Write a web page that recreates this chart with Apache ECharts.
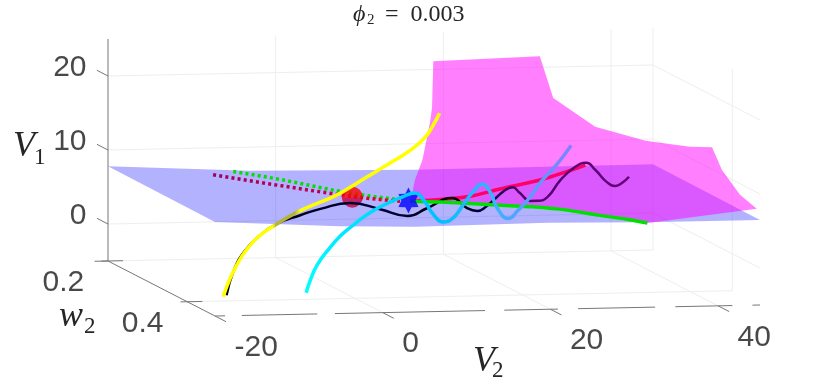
<!DOCTYPE html>
<html>
<head>
<meta charset="utf-8">
<style>
  html, body { margin: 0; padding: 0; background: #fff; }
  #main { width: 830px; height: 391px; }
</style>
<script src="https://cdn.jsdelivr.net/npm/echarts@6/dist/echarts.min.js"></script>
</head>
<body>
<div id="main"></div>
<script>
// axis ranges and ticks
const v2Range = [-20, 45];
const w2Range = [0.2, 0.47];
const v1Range = [-5, 25];
const v2Ticks = [-20, 0, 20, 40];
const w2Ticks = [0.2, 0.4];
const v1Ticks = [0, 10, 20];
// V2 axis line is broken up in the original
const v2AxisPieces = [[-20, -18.8], [-16.8, -7.8], [-5.7, 12.2], [14.5, 20.9], [23.3, 32.5], [34.9, 41.7], [44.1, 45]];

// blue surface, back edge then front edge
const blueBackV2 = [-20, -3.1, 16.6, 45];
const blueBackV1 = [7.8, 6.8, 6.5, 6.6];
const blueFrontV2 = [-20, -5.1, 3.9, 19.7, 31.5, 45];
const blueFrontV1 = [7.7, 6.8, 6.5, 6.7, 6.5, 6.5];

// pink surface outline
const pinkV2 = [18.8, 31.5, 33.1, 38.1, 44.1, 45, 45, 45, 45, 45, 33.7, 23.9, 14.0, 16.0, 16.3, 16.6, 17.5, 18.4, 18.65];
const pinkW2 = [0.2, 0.2, 0.2, 0.2, 0.2, 0.293, 0.349, 0.374, 0.42, 0.462, 0.425, 0.425, 0.425, 0.2, 0.2, 0.2, 0.2, 0.2, 0.2];
const pinkV1 = [21.1, 21.5, 15.8, 11.8, 9.8, 11.5, 13, 10.6, 8.5, 7.8, 5.1, 7.1, 8.1, 2.4, 3.4, 5.1, 7.8, 12.8, 14.9];

// trajectories, all read at about the same w2
const curveW2 = 0.425;
const yellowV2 = [-16.9, -16.2, -15.35, -14.15, -12.6, -10.7, -8.3, -5.9, -3.5, -1.15, 1.25, 3.6, 5.65, 7.2, 8.15, 8.9];
const yellowV1 = [-3.7, -1.6, 0.4, 2.55, 4.4, 5.85, 7.4, 8.55, 9.65, 11.15, 12.75, 14.3, 15.75, 17.3, 18.9, 20.5];
const blackV2 = [-16.5, -15.6, -14.4, -12.7, -10.5, -7.7, -5.3, -1.7, 1.8, 5.1, 7.4, 10.4, 12.2, 13.4, 14.4, 16.7, 17.6, 18.5, 19.7, 20.6, 21.8, 23.3, 25.1, 26.4, 27.5, 28.9, 29.9, 30.7, 31.5];
const blackV1 = [-3.5, -0.1, 2.3, 4.3, 6.0, 7.1, 7.9, 8.6, 7.7, 6.7, 7.7, 9.0, 7.6, 7.2, 7.7, 9.9, 10.3, 9.5, 8.4, 8.4, 8.9, 11.1, 12.9, 13.4, 12.4, 10.7, 10.2, 10.6, 11.4];
const cyanV2 = [-7.0, -6.5, -5.7, -4.4, -2.9, -1.4, 0.0, 1.8, 4.5, 6.0, 7.0, 8.2, 9.3, 10.5, 11.7, 12.9, 14.0, 15.0, 15.8, 17.1, 18.3, 19.4, 21.2, 23.0, 24.6];
const cyanV1 = [-3.4, -1.7, 0.3, 2.3, 4.2, 5.6, 6.8, 8.0, 9.3, 9.8, 8.8, 6.8, 5.8, 6.3, 8.0, 9.8, 10.8, 9.6, 7.5, 6.1, 7.2, 8.5, 11.2, 13.4, 15.8];
const greenV2 = [5.4, 9.0, 14.0, 18.5, 20.0, 23.9, 27.8, 31.1, 33.7];
const greenV1 = [8.7, 8.5, 8.1, 7.7, 7.6, 7.1, 6.3, 5.7, 5.1];
const redV2 = [6.0, 9.6, 12.6, 16.1, 20.9, 23.9, 26.3];
const redV1 = [8.7, 8.9, 9.2, 10.1, 11.2, 12.2, 13.1];
const greenDotV2 = [-15.7, -10.1, -3.8, 0.6, 4.2];
const greenDotV1 = [13.2, 12.0, 10.4, 9.5, 8.9];
const redDotV2 = [-18.1, -11.3, -3.8, 0.3, 4.2];
const redDotV1 = [12.8, 11.4, 9.9, 9.2, 8.7];
// equilibrium markers
const circlePoint = [-1.5, curveW2, 9.4];
const starPoint = [5.2, curveW2, 8.8];

// view of the 3d box on the page
function project(v2, w2, v1) {
  let s = (v2 - v2Range[0]) / (v2Range[1] - v2Range[0]);
  let t = (w2 - w2Range[0]) / (w2Range[1] - w2Range[0]);
  return [108 + 545 * s + 107 * t, 261 - 11 * s + 55 * t - (v1 - v1Range[0]) * 7.4];
}

function curve(v2s, v1s) {
  return v2s.map((v, i) => project(v, curveW2, v1s[i]));
}

function lineSeries(name, data, color, width, z, extra) {
  return Object.assign({
    name: name,
    type: 'line',
    data: data,
    z: z,
    silent: true,
    animation: false,
    symbol: 'none',
    clip: false,
    lineStyle: { color: color, width: width, cap: 'butt' }
  }, extra || {});
}

function polygonSeries(name, points, color, z) {
  return {
    name: name,
    type: 'custom',
    data: [0],
    z: z,
    silent: true,
    animation: false,
    clip: false,
    renderItem: (params, api) => ({
      type: 'polygon',
      shape: { points: points.map((p) => api.coord(p)) },
      style: { fill: color }
    })
  };
}

function tickLabels(name, points, texts, dx, dy, align) {
  return {
    name: name,
    type: 'scatter',
    data: points.map((p, i) => ({ value: p, text: texts[i] })),
    symbolSize: 1,
    z: 20,
    silent: true,
    animation: false,
    clip: false,
    itemStyle: { color: 'transparent' },
    label: {
      show: true,
      position: [dx, dy],
      align: align,
      verticalAlign: 'middle',
      fontFamily: 'Liberation Sans',
      fontSize: 30,
      color: '#1a1a1a',
      formatter: (p) => p.data.text
    }
  };
}

const gridColor = '#eeeeee';
const axisColor = '#777';
let series = [];
const v1Max = v1Range[1], v1Min = v1Range[0];

// walls and floor
v1Ticks.forEach((v, i) => {
  series.push(lineSeries('gridV1' + i, [project(-20, 0.2, v), project(45, 0.2, v), project(45, 0.47, v)], gridColor, 1, 1));
});
v2Ticks.slice(1).forEach((v, i) => {
  series.push(lineSeries('wallV2' + i, [project(v, 0.2, v1Max), project(v, 0.2, v1Min), project(v, 0.47, v1Min)], gridColor, 1, 1));
});
series.push(lineSeries('wallEnd', [project(45, 0.2, v1Max), project(45, 0.2, v1Min), project(-20, 0.2, v1Min)], gridColor, 1, 1));
series.push(lineSeries('wallW', [project(45, 0.4, v1Max), project(45, 0.4, v1Min), project(-20, 0.4, v1Min)], gridColor, 1, 1));

// axes and tick stubs
series.push(lineSeries('axisV1', [project(-20, 0.2, v1Max), project(-20, 0.2, v1Min)], axisColor, 1, 2));
series.push(lineSeries('axisW2', [project(-20, 0.2, v1Min), project(-20, 0.47, v1Min)], axisColor, 1, 2));
v2AxisPieces.forEach((p, i) => {
  series.push(lineSeries('axisV2' + i, [project(p[0], 0.47, v1Min), project(p[1], 0.47, v1Min)], axisColor, 1, 2));
});
v1Ticks.forEach((v, i) => {
  series.push(lineSeries('tickV1' + i, [project(-20, 0.2, v), project(-20, 0.172, v)], axisColor, 1, 2));
});
series.push(lineSeries('tickV1min', [project(-20, 0.2, v1Min), project(-21.6, 0.2, v1Min)], axisColor, 1, 2));
w2Ticks.forEach((v, i) => {
  series.push(lineSeries('tickW' + i, [project(-20.8, v, v1Min), project(-18.2, v, v1Min)], axisColor, 1, 2));
});
v2Ticks.forEach((v, i) => {
  series.push(lineSeries('tickV2' + i, [project(v, 0.47, v1Min), project(v, 0.498, v1Min)], axisColor, 1, 2));
});

// surfaces
let bluePts = blueBackV2.map((v, i) => [v, 0.2, blueBackV1[i]])
  .concat(blueFrontV2.map((v, i) => [v, 0.47, blueFrontV1[i]]).reverse())
  .map((p) => project(p[0], p[1], p[2]));
let pinkPts = pinkV2.map((v, i) => project(v, pinkW2[i], pinkV1[i]));
series.push(polygonSeries('blueSurface', bluePts, 'rgba(0,0,255,0.3)', 3));
series.push(polygonSeries('pinkSurface', pinkPts, 'rgba(255,0,255,0.5)', 4));

// trajectories
const grad = (stops) => new echarts.graphic.LinearGradient(0, 0, 1, 0, stops.map((s) => ({ offset: s[0], color: s[1] })));
series.push(lineSeries('greenDots', curve(greenDotV2, greenDotV1), '#00e000', 3.5, 5, { lineStyle: { color: '#00e000', width: 3.5, type: [3, 3.2], cap: 'butt' } }));
series.push(lineSeries('redDots', curve(redDotV2, redDotV1), '#a80060', 3.5, 6, {
  lineStyle: { color: grad([[0, '#a0005a'], [0.6, '#c00050'], [1, '#f00020']]), width: 3.5, type: [3, 3.2], cap: 'butt' }
}));
series.push(lineSeries('redLine', curve(redV2, redV1), '#ff0066', 3.5, 7, { smooth: 0.3 }));
series.push({
  name: 'circle', type: 'scatter', z: 8, silent: true, animation: false,
  data: [project(circlePoint[0], circlePoint[1], circlePoint[2])],
  symbol: 'circle', symbolSize: 21,
  itemStyle: {
    color: new echarts.graphic.LinearGradient(0, 0, 0, 1, [
      { offset: 0, color: '#ff0000' }, { offset: 0.5, color: '#ff0000' },
      { offset: 0.55, color: '#c4003c' }, { offset: 1, color: '#c4003c' }
    ])
  }
});
series.push(lineSeries('blackLine', curve(blackV2, blackV1), '#000', 2.5, 9, {
  smooth: 0.5,
  lineStyle: {
    width: 2.5,
    color: grad([[0, '#000'], [0.4, '#00003c'], [0.55, '#000'], [0.64, '#000040'], [0.72, '#50006a'], [1, '#640078']])
  }
}));
series.push(lineSeries('greenLine', curve(greenV2, greenV1), '#00e000', 3.5, 10, { smooth: 0.3 }));
series.push({
  name: 'star', type: 'scatter', z: 11, silent: true, animation: false,
  data: [project(starPoint[0], starPoint[1], starPoint[2])],
  symbol: 'path://M50 0 L64 24 L95 25 L82 50 L95 75 L64 76 L50 100 L36 76 L5 75 L18 50 L5 25 L36 24 Z',
  symbolSize: [20, 26],
  itemStyle: { color: '#0000ff' }
});
series.push(lineSeries('yellowLine', curve(yellowV2, yellowV1), '#ffff00', 3.5, 12, {
  smooth: 0.5,
  lineStyle: {
    width: 3.5,
    color: grad([[0, '#ffff00'], [0.235, '#ffff00'], [0.25, '#b4b43c'], [0.335, '#b4b43c'], [0.36, '#ffff00'], [1, '#ffff00']])
  }
}));
series.push(lineSeries('cyanLine', curve(cyanV2, cyanV1), '#00ffff', 3.5, 13, {
  smooth: 0.5,
  lineStyle: {
    width: 3.5,
    color: grad([[0, '#00ffff'], [0.2, '#00e0ff'], [0.5, '#00c0ff'], [0.72, '#40b0ff'], [1, '#8080ff']])
  }
}));

// tick labels
series.push(tickLabels('v1Labels', v1Ticks.map((v) => project(-20, 0.2, v)), v1Ticks.map(String), -21, -8, 'right'));
series.push(tickLabels('w2Labels', w2Ticks.map((v) => project(-20, v, v1Min)), w2Ticks.map(String), -65, 22, 'left'));
series.push(tickLabels('v2Labels', v2Ticks.map((v) => project(v, 0.47, v1Min)), v2Ticks.map(String), 20, 32, 'left'));

const serif = 'Liberation Serif';
function mathText(x, y, text, size, italic) {
  return {
    type: 'text', x: x, y: y, z: 30, silent: true,
    style: {
      text: text,
      fontFamily: serif,
      fontStyle: italic ? 'italic' : 'normal',
      fontSize: size,
      fill: '#262626',
      verticalAlign: 'middle'
    }
  };
}

let myChart = echarts.init(document.getElementById('main'), null, { renderer: 'canvas' });
myChart.setOption({
  backgroundColor: '#fff',
  animation: false,
  grid: { left: 0, right: 0, top: 0, bottom: 0 },
  xAxis: { type: 'value', min: 0, max: 830, show: false },
  yAxis: { type: 'value', min: 0, max: 391, inverse: true, show: false },
  series: series,
  graphic: [
    mathText(353, 15, '\u03d5', 24, true),
    mathText(367, 20, '2', 15, false),
    mathText(385, 15, '= \u00a00.003', 24, false),
    mathText(13, 147, 'V', 36, true),
    mathText(34, 158, '1', 23, false),
    mathText(59, 317, 'w', 36, true),
    mathText(84, 327, '2', 23, false),
    mathText(473, 362, 'V', 36, true),
    mathText(492, 371, '2', 23, false)
  ]
});
</script>
</body>
</html>
